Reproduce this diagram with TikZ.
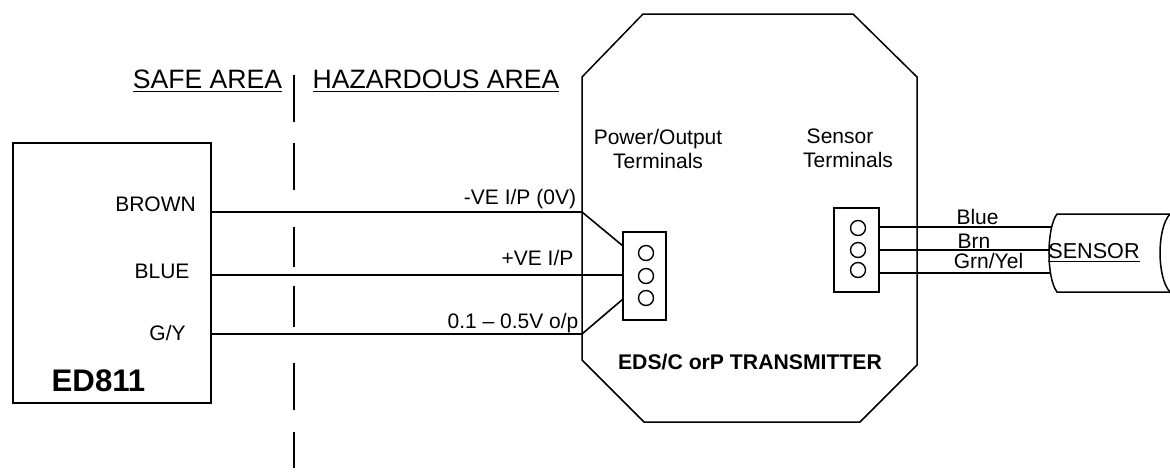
\documentclass[tikz,border=0pt]{standalone}
\usepackage{fontspec}
\setmainfont{Liberation Sans}
\newcommand{\ulined}[1]{\setbox0=\hbox{#1}\rlap{\rule[-2.1pt]{\wd0}{0.7pt}}\box0}
\begin{document}
\begin{tikzpicture}[
    x=0.5pt, y=-0.5pt,
    unitbox/.style={
        draw, rectangle, outer sep=0pt, line width=0.75pt
    },
    outline/.style={draw, line width=0.75pt},
    wire/.style={line width=0.8pt},
    pin/.style={draw, circle, minimum size=7.5pt, inner sep=0pt, line width=0.7pt},
    barrier/.style={line width=0.8pt},
    label/.style={font=\fontsize{10.5}{12}\selectfont, anchor=base, inner sep=0pt},
    boldlabel/.style={label, font=\fontsize{#1}{16}\selectfont\bfseries},
    arealabel/.style={label, font=\fontsize{13.3}{16}\selectfont}
]
    \useasboundingbox (0,0) rectangle (1170,472);

    % Safe area unit
    \node[unitbox, minimum width=99pt, minimum height=130pt] (ed) at (112,273) {};
    \node[label] (brownlbl) at (155.5,211) {BROWN};
    \node[label] (bluelbl) at (162,278) {BLUE};
    \node[label] (gylbl) at (167.5,340) {G/Y};
    \node[boldlabel=15.6] (edlbl) at (98.5,391) {ED811};

    % Area boundary
    \node[arealabel] (safe) at (207.5,88) {\ulined{SAFE AREA}};
    \node[arealabel] (haz) at (436,88) {\ulined{HAZARDOUS AREA}};
    \foreach \ya/\yb in {75/122, 143/190, 227/267, 286/327, 363/410, 432/468}
        \draw[barrier] (294,\ya) -- (294,\yb);

    % Transmitter housing
    \coordinate (oa) at (582,212);
    \coordinate (ob) at (582,275);
    \coordinate (oc) at (582,334);
    \draw[outline] (643,14) -- (853,14) -- (917,77) -- (917,365) -- (860,422)
        -- (644,422) -- (582,360) -- (582,77) -- cycle;
    \node[label] (powerlbl) at (658,144) {Power/Output};
    \node[label] (powerlblb) at (658,168) {Terminals};
    \node[label] (sensorlbl) at (840,143) {Sensor};
    \node[label] (sensorlblb) at (848,167) {Terminals};
    \node[boldlabel=10.6] (txlbl) at (750,369) {EDS/C orP TRANSMITTER};

    % Power/output terminals
    \node[unitbox, minimum width=21.5pt, minimum height=44pt] (pt) at (644.5,276) {};
    \node[pin] (pta) at (646,253) {};
    \node[pin] (ptb) at (646,276) {};
    \node[pin] (ptc) at (646,298) {};
    \coordinate (pa) at (623,246);
    \coordinate (pb) at (623,275);
    \coordinate (pc) at (623,299);

    % Sensor terminals
    \node[unitbox, minimum width=22.5pt, minimum height=42pt] (st) at (856.5,250) {};
    \node[pin] (sta) at (858,228) {};
    \node[pin] (stb) at (858,250) {};
    \node[pin] (stc) at (858,270) {};

    % Sensor body
    \coordinate (sa) at (1051,227);
    \coordinate (sb) at (1050,250);
    \coordinate (sc) at (1050,273);
    \draw[outline] (1170,214) -- (1057,214) .. controls (1046.3,228) and (1046.3,278) .. (1057,292) -- (1170,292);
    \draw[outline] (1170,214) .. controls (1156.7,228) and (1156.7,278) .. (1170,292);
    \node[font=\fontsize{10.8}{13}\selectfont, anchor=base, inner sep=0pt] (senslbl) at (1094,258) {\ulined{SENSOR}};

    % Wiring
    \draw[wire] (ed.east |- oa) -- (oa) -- (pa);
    \draw[wire] (ed.east |- ob) -- (ob) -- (pb);
    \draw[wire] (ed.east |- oc) -- (oc) -- (pc);
    \node[label] (wa) at (520,204) {-VE I/P (0V)};
    \node[label] (wb) at (537.5,265) {+VE I/P};
    \node[label] (wc) at (513,328) {0.1 -- 0.5V o/p};

    \draw[wire] (st.east |- sa) -- (sa);
    \draw[wire] (st.east |- sb) -- (sb);
    \draw[wire] (st.east |- sc) -- (sc);
    \node[label] (ca) at (977.5,224) {Blue};
    \node[label] (cb) at (974,248) {Brn};
    \node[label] (cc) at (988.5,268) {Grn/Yel};

\end{tikzpicture}
\end{document}
